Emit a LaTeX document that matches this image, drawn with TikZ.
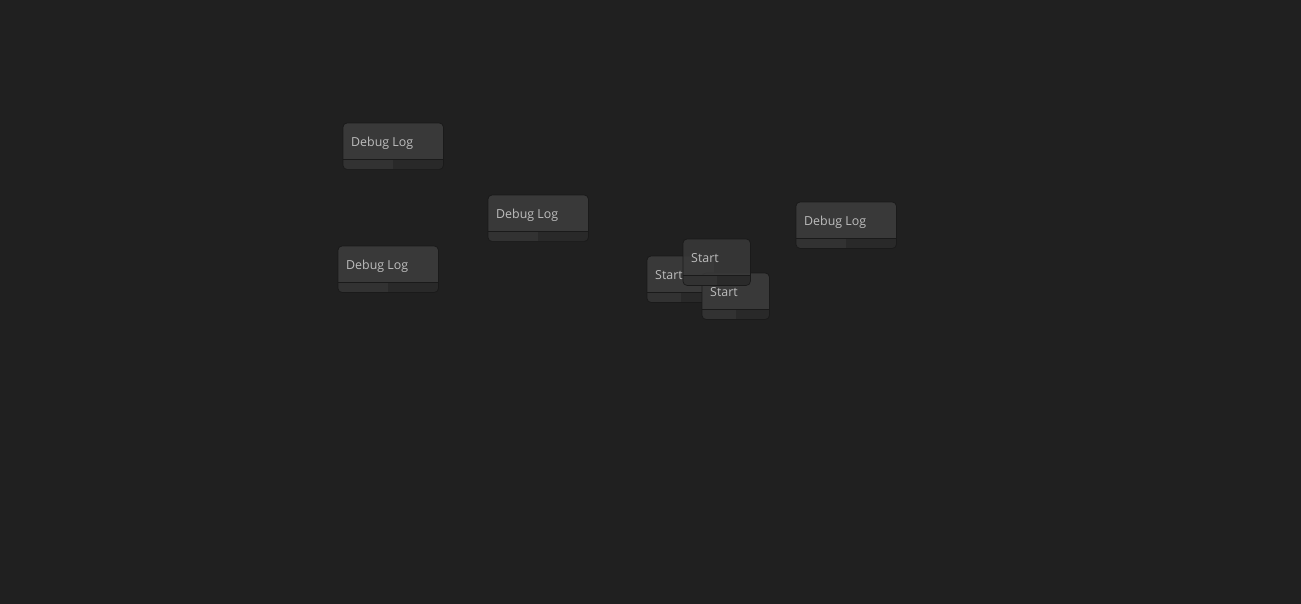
\documentclass[tikz,border=0pt]{standalone}
\usepackage{fontspec}
\setmainfont{Open Sans}
\definecolor{canvas}{HTML}{202020}
\definecolor{cardbody}{HTML}{393939}
\definecolor{cardline}{HTML}{1A1A1A}
\definecolor{barleft}{HTML}{323232}
\definecolor{barright}{HTML}{292929}
\definecolor{cardtext}{HTML}{BDBDBD}
\begin{document}
\begin{tikzpicture}[
    x=1pt, y=-1pt,
    card/.style={fill=cardbody, rounded corners=4pt, minimum height=46pt,
      inner sep=0pt, anchor=north west},
    cardtitle/.style={anchor=base west, inner sep=0pt, text=cardtext,
      font=\fontsize{12.4}{14}\selectfont}
  ]
  \fill[canvas] (0,0) rectangle (1301,604);
  \useasboundingbox (0,0) rectangle (1301,604);
  % graph nodes, drawn back to front
  \foreach \n/\x/\y/\w/\txt/\op in {
      log1/343/123/100/Debug Log/1,
      log2/488/195/100/Debug Log/1,
      log3/338/246/100/Debug Log/1,
      log4/796/202/100/Debug Log/1,
      start1/647/256/67/Start/1,
      start3/702/273/67/Start/1,
      start2/683/239/67/Start/0.88} {
    \node[card, minimum width=\w pt, fill opacity=\op] (\n) at (\x,\y) {};
    \begin{scope}[fill opacity=\op]
      \clip[rounded corners=4pt] (\n.south west) rectangle (\n.north east);
      \fill[barleft] (\n.south west) rectangle ([yshift=10pt]\n.south);
      \fill[barright] (\n.south) rectangle ([yshift=10pt]\n.south east);
    \end{scope}
    \draw[cardline, line width=0.7pt] ([yshift=10pt]\n.south west) -- ([yshift=10pt]\n.south east);
    \draw[cardline, line width=0.7pt, rounded corners=4pt] (\n.south west) rectangle (\n.north east);
    \node[cardtitle] (\n-title) at ([xshift=8pt,yshift=-23.5pt]\n.north west) {\txt};
  }
\end{tikzpicture}
\end{document}
